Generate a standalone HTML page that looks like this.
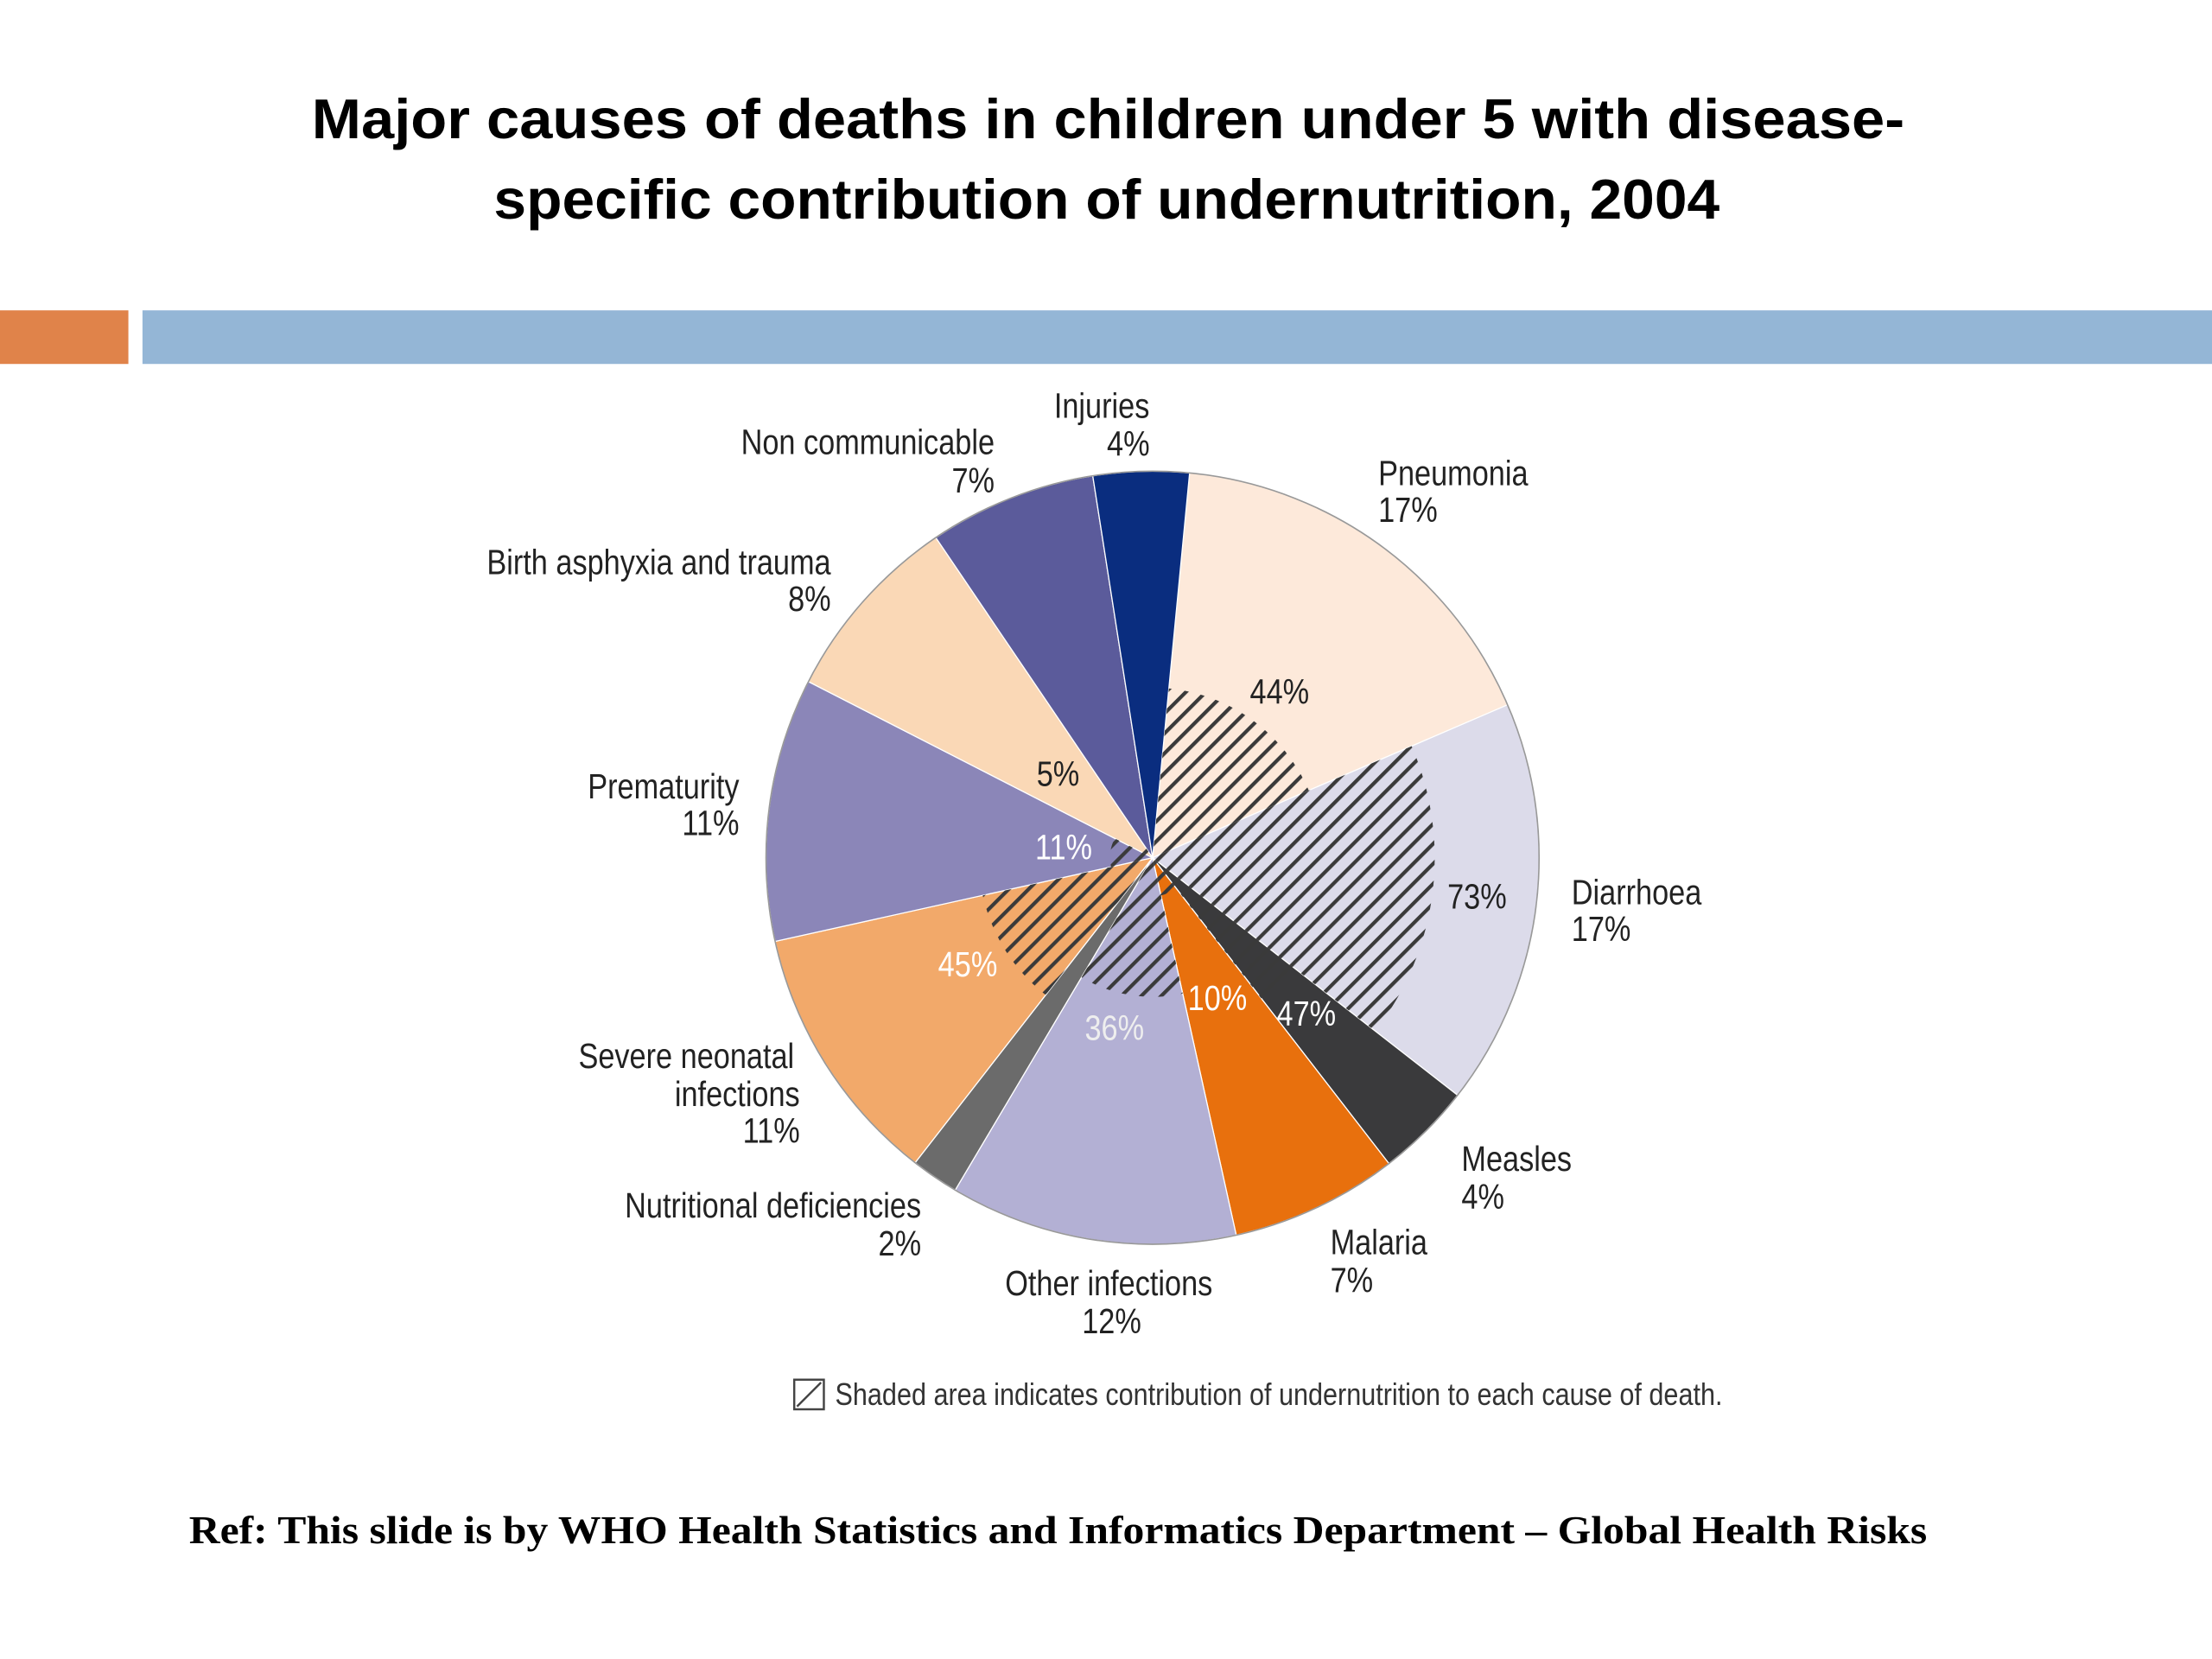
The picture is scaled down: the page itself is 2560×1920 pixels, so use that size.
<!DOCTYPE html>
<html><head><meta charset="utf-8"><style>
html,body{margin:0;padding:0;background:#fff}
svg{display:block}
.lbl{font-family:"Liberation Sans Narrow","Liberation Sans",sans-serif;font-size:25px;fill:#222}
</style></head><body>
<svg id="chart" width="2560" height="1920" viewBox="0 0 1568 1176" xmlns="http://www.w3.org/2000/svg">
<defs>
<pattern id="hatch" patternUnits="userSpaceOnUse" width="10" height="10" patternTransform="rotate(45)">
<rect x="0" y="0" width="2.6" height="10" fill="#3a3a3a"/>
</pattern>
</defs>
<rect width="1568" height="1176" fill="#fff"/>
<text x="221" y="98" textLength="1129" lengthAdjust="spacingAndGlyphs" font-family="'Liberation Sans',sans-serif" font-weight="bold" font-size="40" fill="#000">Major causes of deaths in children under 5 with disease-</text>
<text x="350" y="155" textLength="869" lengthAdjust="spacingAndGlyphs" font-family="'Liberation Sans',sans-serif" font-weight="bold" font-size="40" fill="#000">specific contribution of undernutrition, 2004</text>
<rect x="0" y="220" width="91" height="38" fill="#e0834a"/>
<rect x="101" y="220" width="1467" height="38" fill="#94b6d6"/>
<g id="pie"></g>
<g id="labels">
<text class="lbl" text-anchor="middle" x="781" y="296">Injuries</text>
<text class="lbl" text-anchor="end" x="815" y="323">4%</text>
<text class="lbl" text-anchor="end" x="705" y="322">Non communicable</text>
<text class="lbl" text-anchor="end" x="705" y="349">7%</text>
<text class="lbl" text-anchor="end" x="589" y="407">Birth asphyxia and trauma</text>
<text class="lbl" text-anchor="end" x="589" y="433">8%</text>
<text class="lbl" text-anchor="end" x="524" y="566">Prematurity</text>
<text class="lbl" text-anchor="end" x="524" y="592">11%</text>
<text class="lbl" text-anchor="end" x="563" y="757">Severe neonatal</text>
<text class="lbl" text-anchor="end" x="567" y="784">infections</text>
<text class="lbl" text-anchor="end" x="567" y="810">11%</text>
<text class="lbl" text-anchor="end" x="653" y="863">Nutritional deficiencies</text>
<text class="lbl" text-anchor="end" x="653" y="890">2%</text>
<text class="lbl" text-anchor="middle" x="786" y="918">Other infections</text>
<text class="lbl" text-anchor="middle" x="788" y="945">12%</text>
<text class="lbl" x="943" y="889">Malaria</text>
<text class="lbl" x="943" y="916">7%</text>
<text class="lbl" x="1036" y="830">Measles</text>
<text class="lbl" x="1036" y="857">4%</text>
<text class="lbl" x="1114" y="641">Diarrhoea</text>
<text class="lbl" x="1114" y="667">17%</text>
<text class="lbl" x="977" y="344">Pneumonia</text>
<text class="lbl" x="977" y="370">17%</text>
<text class="lbl" text-anchor="middle" x="907" y="499">44%</text>
<text class="lbl" text-anchor="middle" x="750" y="557">5%</text>
<text class="lbl" text-anchor="middle" x="754" y="609" style="fill:#fff">11%</text>
<text class="lbl" text-anchor="middle" x="1047" y="644">73%</text>
<text class="lbl" text-anchor="middle" x="686" y="692" style="fill:#fff">45%</text>
<text class="lbl" text-anchor="middle" x="863" y="716" style="fill:#fff">10%</text>
<text class="lbl" text-anchor="middle" x="926" y="727" style="fill:#fff">47%</text>
<text class="lbl" text-anchor="middle" x="790" y="737" style="fill:#eee">36%</text>
</g>
<g>
<rect x="563" y="978" width="21" height="21" fill="#fff" stroke="#444" stroke-width="1.5"/>
<line x1="565" y1="997" x2="582" y2="980" stroke="#444" stroke-width="1.5"/>
<text x="592" y="996" textLength="629" lengthAdjust="spacingAndGlyphs" font-family="'Liberation Sans',sans-serif" font-size="22" fill="#333">Shaded area indicates contribution of undernutrition to each cause of death.</text>
</g>
<text x="134" y="1094" textLength="1232" lengthAdjust="spacingAndGlyphs" font-family="'Liberation Serif',serif" font-weight="bold" font-size="28" fill="#000">Ref: This slide is by WHO Health Statistics and Informatics Department – Global Health Risks</text>
</svg>
<script>
const causes = ["Pneumonia","Diarrhoea","Measles","Malaria","Other infections","Nutritional deficiencies","Severe neonatal infections","Prematurity","Birth asphyxia and trauma","Non communicable","Injuries"];
const shares = [17,17,4,7,12,2,11,11,8,7,4];
const undernutrition = [44,73,47,10,36,0,45,11,5,0,0];
const colors = ["#fde9da","#dcdbea","#3a3a3c","#e8700d","#b3b0d4","#6b6b6b","#f2a96a","#8b86b8","#fad8b6","#5b5b9b","#0a2d7f"];
const cx = 817, cy = 608, R = 274, startDeg = 5.5;
const NS = "http://www.w3.org/2000/svg";
const pie = document.getElementById("pie");
function pt(deg, r){const a = deg*Math.PI/180; return [cx + r*Math.sin(a), cy - r*Math.cos(a)];}
function wedge(a0, a1, r){
  const p0 = pt(a0, r), p1 = pt(a1, r);
  const large = (a1 - a0) > 180 ? 1 : 0;
  return `M${cx},${cy} L${p0[0]},${p0[1]} A${r},${r} 0 ${large} 1 ${p1[0]},${p1[1]} Z`;
}
const total = shares.reduce((a,b)=>a+b,0);
let ang = startDeg;
const hatches = [];
for (let i = 0; i < shares.length; i++) {
  const sweep = shares[i]/total*360;
  const p = document.createElementNS(NS, "path");
  p.setAttribute("d", wedge(ang, ang+sweep, R));
  p.setAttribute("fill", colors[i]);
  p.setAttribute("stroke", "#fff");
  p.setAttribute("stroke-width", "0.8");
  
  
  pie.appendChild(p);
  if (undernutrition[i] > 0) hatches.push([ang, ang+sweep, R*undernutrition[i]/100]);
  ang += sweep;
}
hatches.forEach(h => {
  const q = document.createElementNS(NS, "path");
  q.setAttribute("d", wedge(h[0], h[1], h[2]));
  q.setAttribute("fill", "url(#hatch)");
  
  
  pie.appendChild(q);
});
const ring = document.createElementNS(NS, "circle");
ring.setAttribute("cx", cx); ring.setAttribute("cy", cy); ring.setAttribute("r", R);
ring.setAttribute("fill", "none"); ring.setAttribute("stroke", "#999"); ring.setAttribute("stroke-width", "1");


pie.appendChild(ring);
// condense label text horizontally around its anchor x
document.querySelectorAll('#labels text').forEach(t => {
  const x = parseFloat(t.getAttribute('x'));
  t.setAttribute('transform', `translate(${x},0) scale(0.84,1) translate(${-x},0)`);
  
  
});
</script>
</body></html>
